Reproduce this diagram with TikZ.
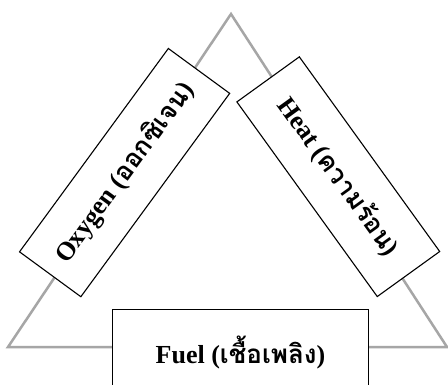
\documentclass[tikz,border=0pt]{standalone}
\usepackage{fontspec}
\setmainfont{Liberation Serif}
\newfontfamily\thaifont[Script=Thai]{Loma}
\tikzset{
  side/.style={draw=black, line width=1.1pt, fill=white, inner sep=0pt,
    font=\bfseries\fontsize{26}{28}\selectfont}
}
\begin{document}
\begin{tikzpicture}[x=1pt,y=-1pt]
   \useasboundingbox (0,0) rectangle (448,384);
   \clip (0,0) rectangle (448,384);
   \fill [white] (0,0) rectangle (448,384);
   \coordinate (top) at (231,14);
   \coordinate (left) at (8,347);
   \coordinate (right) at (447,347);
   \draw [gray!70, line width=2.5pt, line join=miter] (top) -- (left) -- (right) -- cycle;
   \node [side, minimum width=252pt, minimum height=76pt, rotate=53.8] (oxygen) at (124.6,172.6) {Oxygen ({\thaifont ออกซิเจน})};
   \node [side, minimum width=240pt, minimum height=77pt, rotate=-54.2] (heat) at (338.3,176.7) {Heat ({\thaifont ความร้อน})};
   \node [side, minimum width=255.6pt, minimum height=85.4pt] (fuel) at (240.5,352) {Fuel ({\thaifont เชื้อเพลิง})};
  \end{tikzpicture}
\end{document}
